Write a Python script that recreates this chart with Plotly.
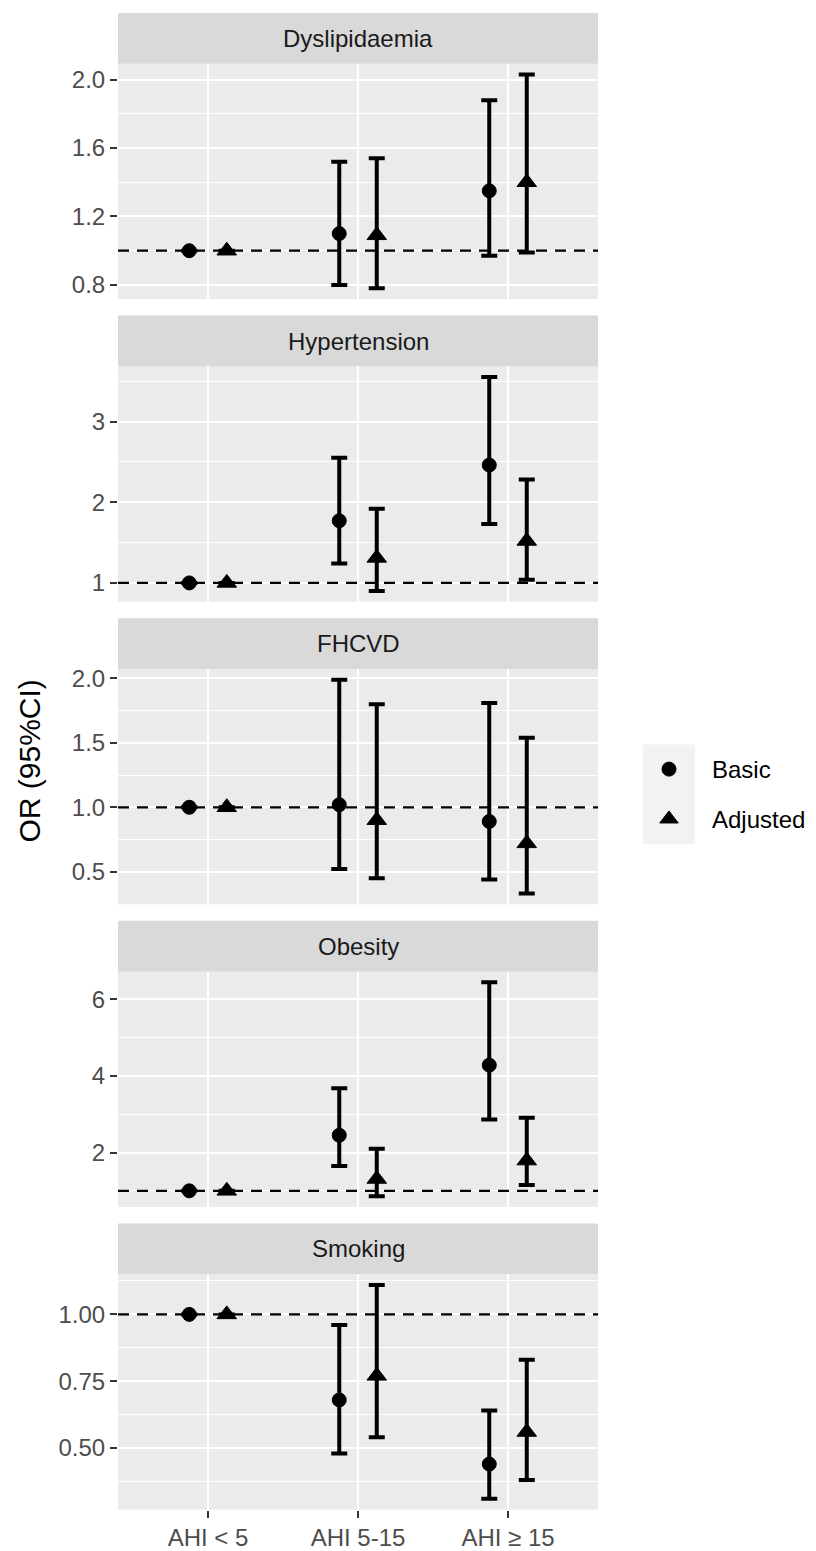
import plotly.graph_objects as go

# ---------------- data ----------------
PANELS = ["Dyslipidaemia", "Hypertension", "FHCVD", "Obesity", "Smoking"]
GROUPS = ["AHI < 5", "AHI 5-15", "AHI ≥ 15"]
SERIES = ["Basic", "Adjusted"]
REF_OR = 1.0

# one row per panel, one value per AHI group
basic_or = [[1.00, 1.10, 1.35], [1.00, 1.77, 2.46], [1.00, 1.02, 0.89], [1.00, 2.45, 4.28], [1.00, 0.68, 0.44]]
basic_lo = [[1.00, 0.80, 0.97], [1.00, 1.24, 1.73], [1.00, 0.52, 0.44], [1.00, 1.65, 2.86], [1.00, 0.48, 0.31]]
basic_hi = [[1.00, 1.52, 1.88], [1.00, 2.55, 3.55], [1.00, 1.99, 1.81], [1.00, 3.68, 6.44], [1.00, 0.96, 0.64]]

adj_or = [[1.00, 1.09, 1.40], [1.00, 1.31, 1.52], [1.00, 0.90, 0.72], [1.00, 1.31, 1.79], [1.00, 0.77, 0.56]]
adj_lo = [[1.00, 0.78, 0.99], [1.00, 0.90, 1.04], [1.00, 0.45, 0.33], [1.00, 0.86, 1.15], [1.00, 0.54, 0.38]]
adj_hi = [[1.00, 1.54, 2.03], [1.00, 1.92, 2.28], [1.00, 1.80, 1.54], [1.00, 2.10, 2.91], [1.00, 1.11, 0.83]]

major_ticks = [[0.8, 1.2, 1.6, 2.0], [1, 2, 3], [0.5, 1.0, 1.5, 2.0], [2, 4, 6], [0.50, 0.75, 1.00]]
major_labels = [["0.8", "1.2", "1.6", "2.0"], ["1", "2", "3"], ["0.5", "1.0", "1.5", "2.0"],
                ["2", "4", "6"], ["0.50", "0.75", "1.00"]]
minor_ticks = [[1.0, 1.4, 1.8], [1.5, 2.5, 3.5], [0.75, 1.25, 1.75], [1, 3, 5], [0.375, 0.625, 0.875, 1.125]]

# ---------------- layout constants ----------------
W, H = 816, 1551
X0, X1 = 118, 598
TOP, STRIP_H, PLOT_H, GAP = 9, 51, 236, 16.6
DODGE = 0.125
FONT = "Liberation Sans, Arial, sans-serif"
SMALL = 24

fig = go.Figure()
shapes, annotations = [], []
layout = {}

series_data = [
    (basic_or, basic_lo, basic_hi, "circle", 14),
    (adj_or, adj_lo, adj_hi, "triangle-up", 17),
]

for i, name in enumerate(PANELS):
    k = i + 1
    sx = "" if k == 1 else str(k)
    xa, ya = "x" + sx, "y" + sx
    strip_top = TOP + i * (STRIP_H + PLOT_H + GAP)
    plot_top = strip_top + STRIP_H
    plot_bot = plot_top + PLOT_H

    # y range like ggplot (5% expansion of data incl. reference line)
    vals = basic_lo[i] + basic_hi[i] + adj_lo[i] + adj_hi[i] + [REF_OR]
    lo, hi = min(vals), max(vals)
    pad = 0.05 * (hi - lo)

    for s, (o, l, h, sym, size) in enumerate(series_data):
        xs = [g + 1 + (-DODGE if s == 0 else DODGE) for g in range(len(GROUPS))]
        fig.add_trace(go.Scatter(
            x=xs, y=o[i], mode="markers", name=SERIES[s],
            marker=dict(symbol=sym, size=size, color="black", line=dict(color="black", width=1)),
            error_y=dict(type="data", symmetric=False,
                         array=[h[i][g] - o[i][g] for g in range(len(GROUPS))],
                         arrayminus=[o[i][g] - l[i][g] for g in range(len(GROUPS))],
                         color="black", thickness=4, width=8),
            xaxis=xa, yaxis=ya, showlegend=(i == 0),
            legend="legend" if s == 0 else "legend2",
        ))

    layout["xaxis" + sx] = dict(
        domain=[X0 / W, X1 / W], anchor=ya, range=[0.4, 3.6],
        tickmode="array", tickvals=[1, 2, 3], ticktext=GROUPS,
        showticklabels=(k == len(PANELS)),
        ticks="outside" if k == len(PANELS) else "", ticklen=7, tickwidth=2, tickcolor="#333333",
        tickfont=dict(size=SMALL, color="#4D4D4D", family=FONT),
        showgrid=True, gridcolor="white", gridwidth=2.2, zeroline=False, showline=False,
        fixedrange=True,
    )
    layout["yaxis" + sx] = dict(
        domain=[1 - plot_bot / H, 1 - plot_top / H], anchor=xa, range=[lo - pad, hi + pad],
        tickmode="array", tickvals=major_ticks[i], ticktext=major_labels[i],
        ticks="outside", ticklen=7, tickwidth=2, tickcolor="#333333",
        tickfont=dict(size=SMALL, color="#4D4D4D", family=FONT),
        showgrid=True, gridcolor="white", gridwidth=2.2, zeroline=False, showline=False,
        minor=dict(tickmode="array", tickvals=minor_ticks[i], showgrid=True, gridcolor="white",
                   gridwidth=1.1, ticks=""),
        fixedrange=True,
    )

    # strip
    shapes.append(dict(type="rect", xref="paper", yref="paper", x0=X0 / W, x1=X1 / W,
                       y0=1 - plot_top / H, y1=1 - strip_top / H, fillcolor="#D9D9D9",
                       line=dict(width=0), layer="below"))
    annotations.append(dict(text=name, xref="paper", yref="paper", x=(X0 + X1) / 2 / W,
                            y=1 - (strip_top + STRIP_H / 2) / H, showarrow=False,
                            font=dict(size=SMALL, color="#1A1A1A", family=FONT),
                            xanchor="center", yanchor="middle"))
    # reference line (all marks are black, so drawing it above them is visually identical)
    shapes.append(dict(type="line", xref=xa + " domain", yref=ya, x0=0, x1=1, y0=REF_OR, y1=REF_OR,
                       line=dict(color="black", width=2.2, dash="11px,8px"), layer="above"))

# y axis title
annotations.append(dict(text="OR (95%CI)", xref="paper", yref="paper", x=30 / W, y=1 - 760 / H,
                        textangle=-90, showarrow=False, xanchor="center", yanchor="middle",
                        font=dict(size=30, color="black", family=FONT)))

# legend key background
shapes.append(dict(type="rect", xref="paper", yref="paper", x0=643 / W, x1=695 / W,
                   y0=1 - 843 / H, y1=1 - 743 / H, fillcolor="#F2F2F2", line=dict(width=0),
                   layer="below"))

leg_common = dict(xanchor="left", yanchor="middle", x=626 / W, bgcolor="rgba(0,0,0,0)",
                  itemwidth=76, font=dict(size=SMALL, color="black", family=FONT),
                  itemclick=False, itemdoubleclick=False)

fig.update_layout(
    width=W, height=H, margin=dict(l=0, r=0, t=0, b=0),
    paper_bgcolor="white", plot_bgcolor="#EBEBEB",
    shapes=shapes, annotations=annotations,
    legend=dict(y=1 - 768 / H, **leg_common),
    legend2=dict(y=1 - 818 / H, **leg_common),
    font=dict(family=FONT),
    **layout,
)

fig.write_html("out.html", config={"displayModeBar": False},
               post_script="document.body.style.margin='0px';")
